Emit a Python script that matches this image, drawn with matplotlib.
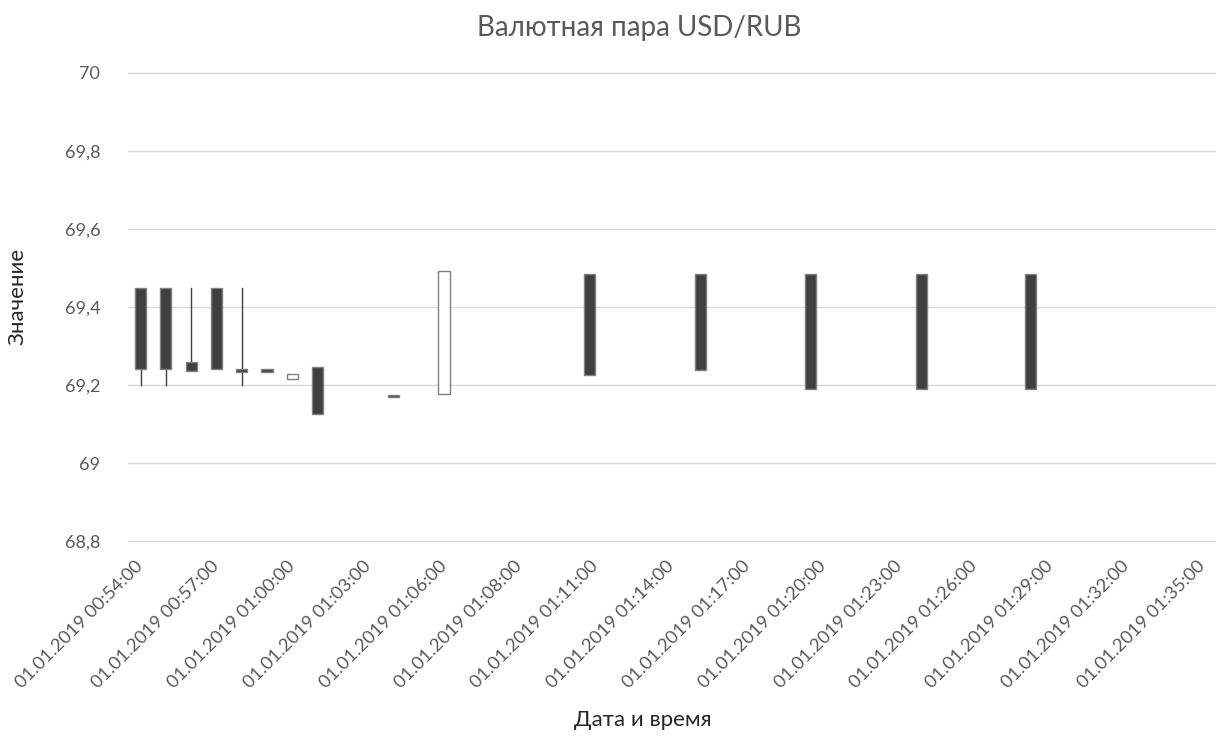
import matplotlib
matplotlib.use("Agg")
import matplotlib.pyplot as plt
import pandas as pd

plt.rcParams['font.family'] = ['Lato', 'DejaVu Sans']

# Candle data (time, open, high, low, close)
times = ["00:54:00", "00:55:00", "00:56:00", "00:57:00", "00:58:00",
         "00:59:00", "01:00:00", "01:01:00", "01:04:00", "01:06:00",
         "01:11:46", "01:16:08", "01:20:29", "01:24:53", "01:29:12"]
opens = [69.45, 69.45, 69.258, 69.45, 69.241, 69.24, 69.216, 69.245,
         69.175, 69.176, 69.485, 69.485, 69.485, 69.485, 69.485]
highs = [69.45, 69.45, 69.45, 69.45, 69.45, 69.24, 69.227, 69.245,
         69.175, 69.492, 69.485, 69.485, 69.485, 69.485, 69.485]
lows = [69.2, 69.2, 69.237, 69.24, 69.2, 69.233, 69.216, 69.125,
        69.168, 69.176, 69.225, 69.238, 69.19, 69.19, 69.19]
closes = [69.24, 69.24, 69.237, 69.24, 69.234, 69.233, 69.227, 69.125,
          69.168, 69.492, 69.225, 69.238, 69.19, 69.19, 69.19]

tick_labels = ["01.01.2019 00:54:00", "01.01.2019 00:57:00", "01.01.2019 01:00:00",
               "01.01.2019 01:03:00", "01.01.2019 01:06:00", "01.01.2019 01:08:00",
               "01.01.2019 01:11:00", "01.01.2019 01:14:00", "01.01.2019 01:17:00",
               "01.01.2019 01:20:00", "01.01.2019 01:23:00", "01.01.2019 01:26:00",
               "01.01.2019 01:29:00", "01.01.2019 01:32:00", "01.01.2019 01:35:00"]

t = pd.to_timedelta(times)
x = (t - t[0]) / pd.Timedelta(minutes=1)

fig = plt.figure(figsize=(12.26, 7.38), dpi=100)
ax = fig.add_axes([0.1044, 0.2669, 0.8866, 0.6342])

dark = "#404040"
edge = "#808080"
w = 0.44
for xi, o, h, l, c in zip(x, opens, highs, lows, closes):
    top = max(o, c)
    bot = min(o, c)
    # wicks
    if h > top:
        ax.plot([xi, xi], [top, h], color=dark, lw=1, zorder=2)
    if l < bot:
        ax.plot([xi, xi], [l, bot], color=dark, lw=1, zorder=2)
    face = "white" if c > o else dark
    ax.bar(xi, top - bot, bottom=bot, width=w, color=face,
           edgecolor=edge, linewidth=1, zorder=3)

ax.set_xlim(-0.5, 42.5)
ax.set_ylim(68.8, 70)
ax.set_yticks([68.8, 69, 69.2, 69.4, 69.6, 69.8, 70])
ax.set_yticklabels(["68,8", "69", "69,2", "69,4", "69,6", "69,8", "70"])
ax.set_xticks(range(0, 43, 3))
ax.set_xticklabels(tick_labels, rotation=45, ha="right", va="center",
                   rotation_mode="anchor")

ax.grid(axis="y", color="#d9d9d9", lw=1, zorder=0)
for gl in ax.get_ygridlines():
    gl.set_clip_on(False)
for s in ax.spines.values():
    s.set_visible(False)
ax.tick_params(axis="both", length=0, colors="#595959")
ax.tick_params(axis="y", pad=20, labelsize=13)
ax.tick_params(axis="x", pad=16, labelsize=13.3)

fig.text(639 / 1226, 1 - 28 / 738, "Валютная пара USD/RUB", fontsize=20,
         color="#595959", ha="center", va="center")
fig.text(643 / 1226, 1 - 720 / 738, "Дата и время", fontsize=16,
         color="#262626", ha="center", va="center")
fig.text(18 / 1226, 1 - 296 / 738, "Значение", fontsize=16, rotation=90,
         color="#262626", ha="center", va="center")

fig.savefig("out.png", dpi=100, facecolor="white")
